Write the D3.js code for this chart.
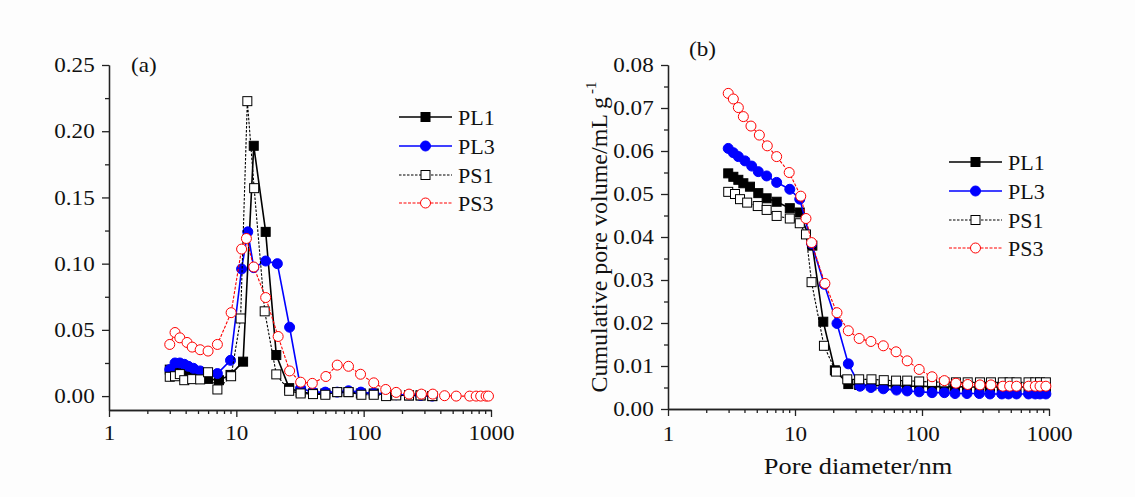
<!DOCTYPE html>
<html>
<head>
<meta charset="utf-8">
<script src="https://cdn.jsdelivr.net/npm/d3@7"></script>
<style>
  body { margin: 0; background: #fdfdfd; }
  svg { display: block; }
  text { font-family: "Liberation Serif", "Times New Roman", serif; fill: #111; }
</style>
</head>
<body>
<svg id="chart" width="1135" height="497"></svg>
<script>
// ---- data ----
const seriesNames = ["PL1", "PL3", "PS1", "PS3"];

// panel (a): pore size distribution
const diaPL1a = [3.0, 3.4, 3.9, 4.6, 5.1, 6.0, 7.3, 9.0, 11.3, 13.7, 17.0, 20.6, 26, 32, 40, 50, 62, 76, 95, 120, 150, 180, 227, 280, 346];
const valPL1a = [0.020, 0.018, 0.0175, 0.015, 0.0135, 0.013, 0.012, 0.016, 0.026, 0.189, 0.124, 0.031, 0.006, 0.003, 0.002, 0.002, 0.003, 0.003, 0.002, 0.002, 0.001, 0.001, 0.0005, 0.0005, 0.0];
const diaPL3a = [3.0, 3.3, 3.6, 3.9, 4.2, 4.6, 5.2, 7.1, 9.0, 11.0, 12.3, 13.7, 17.0, 21.0, 26.2, 32, 40, 50, 62, 76, 95, 120, 150, 180, 227, 280, 346];
const valPL3a = [0.020, 0.025, 0.025, 0.024, 0.0225, 0.021, 0.019, 0.017, 0.027, 0.096, 0.124, 0.097, 0.102, 0.100, 0.052, 0.006, 0.003, 0.003, 0.003, 0.004, 0.003, 0.002, 0.002, 0.001, 0.001, 0.0005, 0.0];
const diaPS1a = [3.0, 3.3, 3.6, 3.9, 4.5, 5.2, 6.0, 7.1, 9.1, 10.8, 12.2, 13.8, 16.7, 20.6, 26, 32, 40, 50, 62, 76, 96, 120, 150, 180, 227, 280, 346];
const valPS1a = [0.0146, 0.015, 0.0166, 0.012, 0.0128, 0.0126, 0.018, 0.005, 0.015, 0.0586, 0.2227, 0.157, 0.064, 0.0164, 0.004, 0.002, 0.0015, 0.001, 0.003, 0.003, 0.001, 0.001, 0.0, 0.0005, 0.0005, 0.0005, 0.0];
const diaPS3a = [3.0, 3.3, 3.6, 4.1, 4.5, 5.2, 6.0, 7.1, 9.1, 11.0, 12.0, 13.7, 17.0, 21.3, 26.2, 32, 39.5, 50.5, 62, 76, 94.5, 120, 149, 180, 227, 284, 349, 432, 533, 680, 765, 830, 915, 955];
const valPS3a = [0.039, 0.048, 0.044, 0.0405, 0.037, 0.035, 0.034, 0.039, 0.063, 0.111, 0.119, 0.0975, 0.0744, 0.045, 0.019, 0.0105, 0.0096, 0.0148, 0.0234, 0.0225, 0.0165, 0.010, 0.005, 0.0028, 0.0015, 0.0015, 0.0015, 0.0003, 0.0, 0.0, 0.0, 0.0, 0.0, 0.0];

// panel (b): cumulative pore volume
const diaPL1b = [2.98, 3.27, 3.58, 3.92, 4.42, 5.14, 5.98, 7.17, 9.1, 10.9, 13.7, 16.7, 20.6, 26.3, 32, 40, 50, 62, 76, 95, 120, 150, 182, 226, 283, 343, 425, 480, 555, 690, 780, 850, 945];
const valPL1b = [0.0548, 0.054, 0.0533, 0.0525, 0.0517, 0.0502, 0.049, 0.0482, 0.0467, 0.0457, 0.038, 0.0203, 0.009, 0.0058, 0.0056, 0.0055, 0.0054, 0.0054, 0.0053, 0.0053, 0.0052, 0.0052, 0.0052, 0.0051, 0.0051, 0.0051, 0.0051, 0.0051, 0.0051, 0.0051, 0.0051, 0.0051, 0.0051];
const diaPL3b = [2.98, 3.27, 3.58, 4.04, 4.56, 5.14, 5.98, 7.17, 9.1, 10.9, 13.5, 17.0, 21.4, 26.3, 32.5, 39.6, 49.6, 63, 76.5, 95, 120, 150, 182, 226, 283, 343, 425, 480, 555, 690, 780, 850, 945];
const valPL3b = [0.0606, 0.0596, 0.0587, 0.0577, 0.0565, 0.0552, 0.0542, 0.0527, 0.0511, 0.0488, 0.0385, 0.029, 0.0199, 0.0105, 0.0053, 0.0050, 0.0047, 0.0044, 0.0042, 0.0040, 0.0038, 0.0038, 0.0036, 0.0036, 0.0036, 0.0035, 0.0035, 0.0035, 0.0035, 0.0035, 0.0035, 0.0035, 0.0035];
const diaPS1b = [2.98, 3.37, 3.69, 4.2, 5.09, 5.98, 7.17, 9.1, 10.9, 12.2, 13.5, 16.9, 21, 25.8, 32, 40, 50, 62.5, 76.5, 95, 120, 150, 185, 229, 286, 349, 433, 490, 555, 690, 780, 850, 945];
const valPS1b = [0.0505, 0.050, 0.0488, 0.048, 0.0472, 0.0463, 0.0449, 0.0443, 0.0432, 0.0406, 0.0295, 0.0147, 0.0087, 0.0069, 0.0069, 0.0069, 0.0067, 0.0066, 0.0066, 0.0064, 0.0063, 0.0062, 0.0062, 0.0062, 0.0062, 0.0062, 0.0062, 0.0062, 0.0062, 0.0062, 0.0062, 0.0062, 0.0062];
const diaPS3b = [2.98, 3.27, 3.58, 3.92, 4.5, 5.24, 6.05, 7.17, 9.0, 11.1, 12.2, 13.5, 17.2, 21.4, 26.3, 32, 39.6, 49.6, 62.5, 76.5, 95, 120, 150, 185, 229, 286, 349, 433, 490, 555, 690, 780, 850, 945];
const valPS3b = [0.0734, 0.0721, 0.0701, 0.068, 0.0658, 0.0637, 0.0612, 0.0587, 0.055, 0.0495, 0.0443, 0.0387, 0.0292, 0.0224, 0.0182, 0.0164, 0.0157, 0.0147, 0.0133, 0.0112, 0.0092, 0.0075, 0.0066, 0.006, 0.0057, 0.0056, 0.0056, 0.0053, 0.0053, 0.0053, 0.0053, 0.0053, 0.0053, 0.0053];

const xMajor = [1, 10, 100, 1000];
const xMinor = [2, 3, 4, 5, 6, 7, 8, 9, 20, 30, 40, 50, 60, 70, 80, 90, 200, 300, 400, 500, 600, 700, 800, 900];
const yMajorA = [0.00, 0.05, 0.10, 0.15, 0.20, 0.25];
const yMinorA = [0.025, 0.075, 0.125, 0.175, 0.225];
const yMajorB = [0.00, 0.01, 0.02, 0.03, 0.04, 0.05, 0.06, 0.07, 0.08];
const yMinorB = [0.005, 0.015, 0.025, 0.035, 0.045, 0.055, 0.065, 0.075];

// marker / line style per series
const styles = {
  PL1: { color: "#000", marker: "square", fill: "#000", dash: null, width: 1.6 },
  PL3: { color: "#0000ff", marker: "circle", fill: "#0000ff", dash: null, width: 1.6 },
  PS1: { color: "#000", marker: "square", fill: "#fff", dash: "2.5,1.5", width: 1.1 },
  PS3: { color: "#ff0000", marker: "circle", fill: "#fff", dash: "3,1.5", width: 1.1 }
};

const STRETCH = 1.1; // the original text is slightly wide

const svg = d3.select("#chart");

function drawMarker(g, name, x, y) {
  const s = styles[name];
  if (s.marker === "square") {
    g.append("rect")
      .attr("x", x - 4.5).attr("y", y - 4.5)
      .attr("width", 9).attr("height", 9)
      .attr("fill", s.fill).attr("stroke", s.color).attr("stroke-width", 1);
  } else {
    g.append("circle")
      .attr("cx", x).attr("cy", y).attr("r", 5)
      .attr("fill", s.fill).attr("stroke", s.color).attr("stroke-width", 1);
  }
}

function wideText(parent, x, y, str, size, anchor) {
  return parent.append("text")
    .attr("transform", `translate(${x},${y}) scale(${STRETCH},1)`)
    .attr("text-anchor", anchor || "start")
    .style("font-size", size + "px")
    .text(str);
}

function drawPanel(p) {
  const x = d3.scaleLog().domain([1, 1000]).range([p.left, p.right]);
  const y = d3.scaleLinear().domain(p.yDomain).range([p.bottom, p.top]);
  const g = svg.append("g");

  // minor ticks first
  g.append("g").attr("transform", `translate(0,${p.bottom})`)
    .call(d3.axisBottom(x).tickValues(xMinor).tickSize(4).tickFormat("").tickSizeOuter(0));
  g.append("g").attr("transform", `translate(${p.left},0)`)
    .call(d3.axisLeft(y).tickValues(p.yMinor).tickSize(4).tickFormat("").tickSizeOuter(0));

  const xAxis = g.append("g").attr("transform", `translate(0,${p.bottom})`)
    .call(d3.axisBottom(x).tickValues(xMajor).tickSize(7).tickPadding(p.xPad)
      .tickFormat(d3.format("d")).tickSizeOuter(0));
  const yAxis = g.append("g").attr("transform", `translate(${p.left},0)`)
    .call(d3.axisLeft(y).tickValues(p.yMajor).tickSize(7).tickPadding(6)
      .tickFormat(d3.format(".2f")).tickSizeOuter(0));

  g.selectAll(".domain, .tick line").attr("stroke", "#222").attr("stroke-width", 1.3);
  [xAxis, yAxis].forEach(a => a.selectAll("text")
    .attr("font-family", null)
    .style("font-size", "21px")
    .attr("transform", `scale(${STRETCH},1)`));

  // series
  p.series.forEach(([name, dia, val]) => {
    const s = styles[name];
    const pts = d3.zip(dia, val);
    g.append("path")
      .datum(pts)
      .attr("fill", "none")
      .attr("stroke", s.color)
      .attr("stroke-width", s.width)
      .attr("stroke-dasharray", s.dash)
      .attr("d", d3.line().x(d => x(d[0])).y(d => y(d[1])));
    const mg = g.append("g");
    pts.forEach(d => drawMarker(mg, name, x(d[0]), y(d[1])));
  });

  // legend
  seriesNames.forEach((name, i) => {
    const s = styles[name];
    const ly = p.legendY[i];
    g.append("line")
      .attr("x1", p.legendX).attr("x2", p.legendX + 53)
      .attr("y1", ly).attr("y2", ly)
      .attr("stroke", s.color).attr("stroke-width", s.width)
      .attr("stroke-dasharray", s.dash);
    drawMarker(g, name, p.legendX + 26.5, ly);
    g.append("text")
      .attr("x", p.legendX + 59).attr("y", ly + 7.5)
      .style("font-size", "22px")
      .text(name);
  });

  wideText(g, p.tag[0], p.tag[1], p.tag[2], 21);
  return { x, y, g };
}

drawPanel({
  left: 109, right: 491, top: 65, bottom: 410,
  yDomain: [-0.0105, 0.25], yMajor: yMajorA, yMinor: yMinorA, xPad: 8,
  series: [["PL1", diaPL1a, valPL1a], ["PL3", diaPL3a, valPL3a],
           ["PS1", diaPS1a, valPS1a], ["PS3", diaPS3a, valPS3a]],
  legendX: 399, legendY: [117, 146, 175, 203],
  tag: [131, 72, "(a)"]
});

const pb = drawPanel({
  left: 668, right: 1049, top: 65, bottom: 409,
  yDomain: [0, 0.08], yMajor: yMajorB, yMinor: yMinorB, xPad: 10,
  series: [["PL1", diaPL1b, valPL1b], ["PL3", diaPL3b, valPL3b],
           ["PS1", diaPS1b, valPS1b], ["PS3", diaPS3b, valPS3b]],
  legendX: 949, legendY: [162, 191, 220, 248],
  tag: [689, 56, "(b)"]
});

// axis titles for panel (b)
wideText(pb.g, 858, 474, "Pore diameter/nm", 24, "middle");

const yt = pb.g.append("text")
  .attr("transform", "translate(607,237) rotate(-90)")
  .attr("text-anchor", "middle")
  .style("font-size", "24px");
yt.append("tspan").text("Cumulative pore volume/mL g");
yt.append("tspan").attr("dx", 3).attr("dy", -11).style("font-size", "15px").text("-1");
</script>
</body>
</html>
